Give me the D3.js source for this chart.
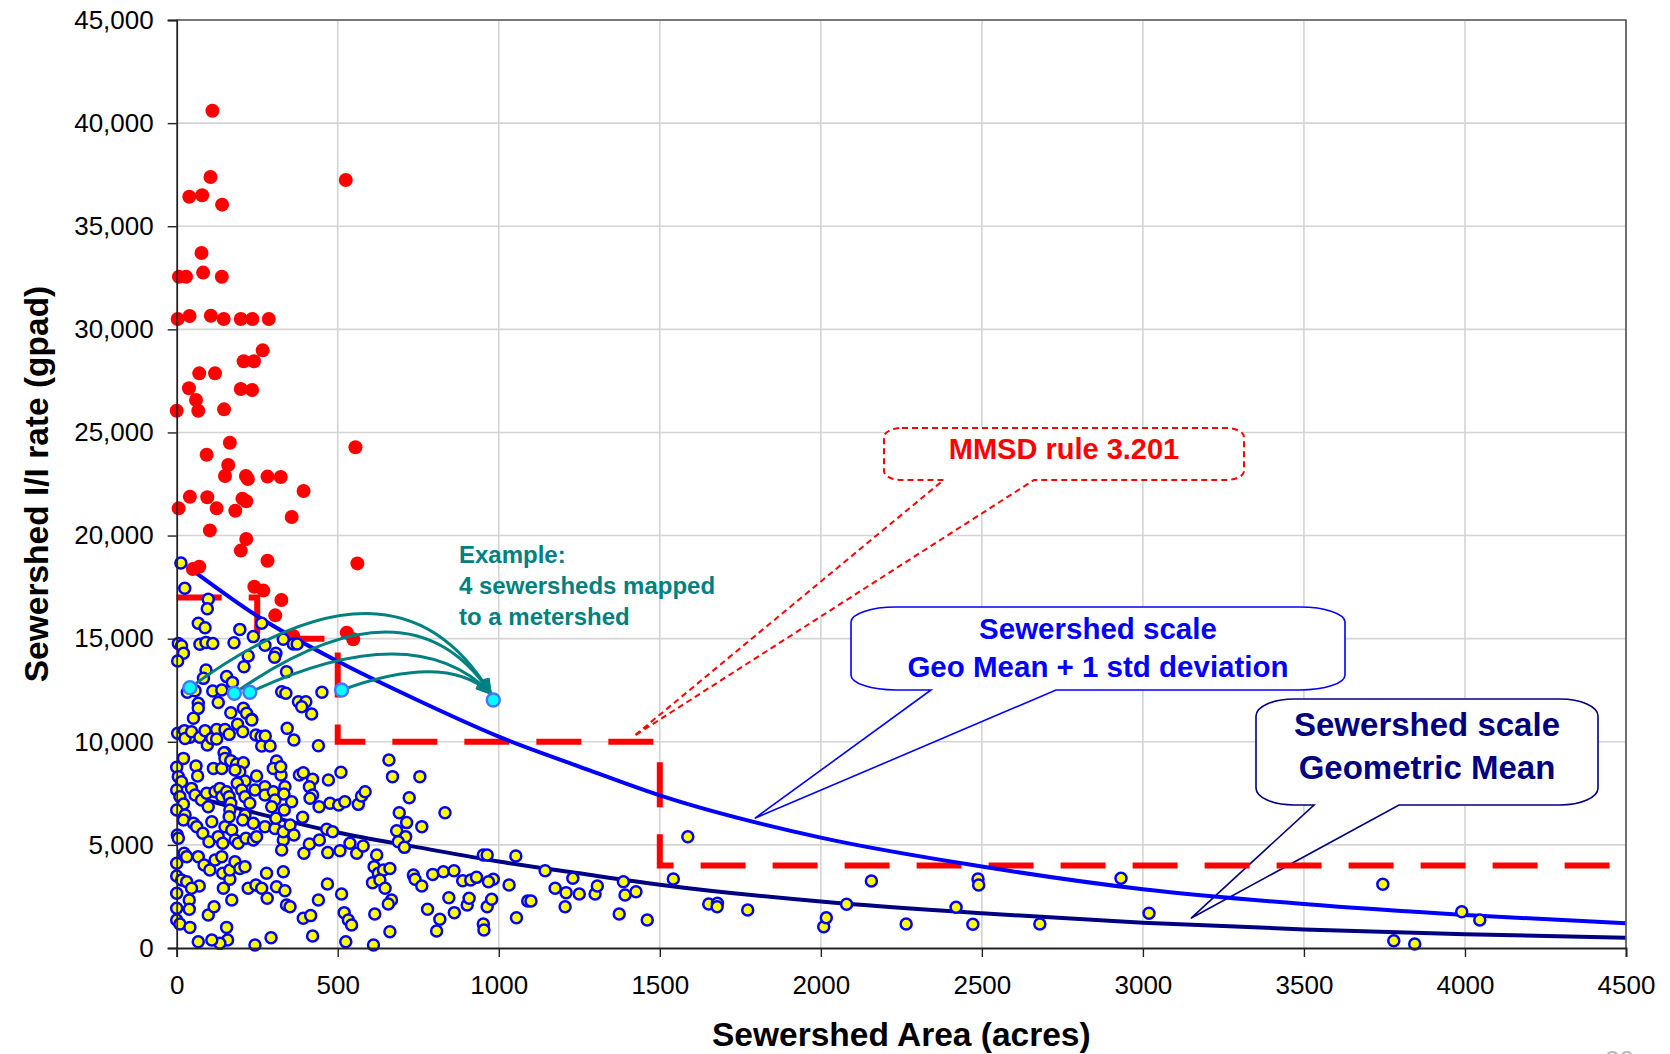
<!DOCTYPE html>
<html>
<head>
<meta charset="utf-8">
<script src="https://cdn.jsdelivr.net/npm/d3@7/dist/d3.min.js"></script>
<title>Sewershed I/I rate vs area</title>
<style>
  body { margin: 0; background: #fff; }
  text { font-family: "Liberation Sans", Arial, sans-serif; }
</style>
</head>
<body>
<div id="chart"></div>
<script>
// axis ticks
var xTicks = [0, 500, 1000, 1500, 2000, 2500, 3000, 3500, 4000, 4500];
var yTicks = [0, 5000, 10000, 15000, 20000, 25000, 30000, 35000, 40000, 45000];

// sewersheds above the rule (acres, gpad)
var redPts = [
  [111,40600],[525,37240],[105,37390],[39,36430],[79,36500],[141,36045],[77,33700],
  [7,32550],[29,32550],[82,32750],[140,32550],[3,30500],[40,30650],[106,30660],
  [146,30500],[199,30500],[235,30500],[286,30500],[267,28980],[208,28450],[240,28450],
  [70,27866],[119,27866],[38,27140],[199,27107],[234,27060],[60,26570],[67,26055],
  [0,26055],[147,26120],[555,24280],[165,24500],[93,23920],[160,23420],[150,22890],
  [215,22890],[221,22740],[282,22860],[323,22840],[394,22160],[6,21320],[41,21885],
  [95,21855],[124,21320],[182,21205],[204,21790],[216,21660],[357,20900],[103,20250],
  [216,19830],[199,19270],[282,18780],[561,18650],[50,18380],[70,18490],[241,17520],
  [269,17330],[325,16875],[306,16130],[528,15290],[548,14970],[362,15130]
];

// sewersheds below the rule (acres, gpad)
var yellowPts = [
  [13,18670],[25,17440],[98,16910],[95,16455],[67,15745],[88,15530],[196,15450],[264,15745],
  [238,15100],[5,14770],[15,14660],[21,14290],[3,13915],[72,14725],[91,14820],[112,14770],
  [178,14800],[274,14680],[308,14290],[304,14095],[331,14970],[362,14740],[374,14740],
  [222,14160],[209,13640],[91,13480],[83,13075],[155,13160],[173,12880],[341,13400],
  [33,12400],[57,12480],[112,12460],[140,12510],[326,12430],[339,12350],[451,12400],
  [378,11945],[401,11945],[388,11700],[419,11350],[67,11865],[67,11620],[129,11900],
  [168,11410],[207,11620],[217,11380],[52,11137],[233,11090],
  [3,10410],[24,10540],[41,10215],[26,10165],[46,10490],[72,10215],[88,10540],[95,9845],
  [109,10165],[124,10600],[124,10135],[150,10600],[150,9470],[163,10360],[189,10845],
  [205,10490],[233,11055],[246,10330],[262,10250],[264,9795],[290,9795],[275,10280],
  [343,10650],[364,10085],[440,9810],
  [21,9195],[0,8760],[5,8310],[15,8065],[60,8825],[65,8340],[114,8710],[140,8710],
  [147,9470],[150,9195],[168,9085],[186,8920],[207,8985],[196,8550],[181,8630],[212,8100],
  [248,8340],[310,9070],[300,8710],[324,8390],[323,8790],[336,7820],[381,8390],[393,8500],
  [422,8180],[412,7820],[471,8145],[510,8520],[659,9115],[670,8310],[755,8310],
  [0,7660],[10,7340],[21,6985],[0,6690],[26,6450],[46,7740],[57,7420],[77,7175],[93,7500],
  [98,6850],[119,7580],[134,7740],[140,7340],[155,7580],[163,7340],[168,7015],[165,6690],
  [188,7985],[202,7660],[212,7340],[227,7015],[212,6450],[243,7660],[274,7820],[274,7420],
  [300,7580],[305,7175],[295,6850],[333,7470],[334,6690],[357,7095],[391,6335],[422,7420],
  [414,7260],[442,6850],[476,7015],[503,6935],[522,7095],[564,6965],[574,7370],[585,7580],
  [722,7290],[691,6560],[833,6560],
  [21,6205],[2,5480],[5,5320],[23,4590],[52,6045],[62,5885],[81,5560],[100,5155],[109,6125],
  [129,5400],[143,5075],[150,5885],[171,5720],[163,6370],[181,5237],[191,5075],[205,6205],
  [215,5320],[238,6045],[238,5237],[248,5400],[274,5885],[305,5800],[308,6290],[331,5237],
  [331,5640],[326,4750],[352,5965],[364,5480],[395,4590],[412,5040],[443,5237],[466,5755],
  [484,5640],[469,4625],[507,4720],[538,5075],[559,4590],[579,4945],[683,5690],[714,6080],
  [711,5400],[688,5155],[707,4880],[761,5885],[621,4510],
  [0,4105],[0,3490],[15,3300],[31,4430],[31,3215],[67,4430],[85,4025],[103,3780],[119,4265],
  [140,4430],[143,3620],[165,3330],[165,3780],[181,4185],[196,3860],[212,3945],[145,2895],
  [70,3005],[46,2895],[222,2895],[246,3055],[264,2895],[279,3620],[281,2410],[310,2975],
  [331,3700],[336,2780],[468,3105],[512,2620],[440,2330],[613,3945],[626,3620],[642,3780],
  [662,3860],[608,3170],[631,3300],[647,2895],[667,2330],[657,2135],[735,3540],[740,3330],
  [761,3005],[795,3570],[828,3700],[861,3750],[888,3265],[913,3300],[931,3425],[952,4510],
  [964,4510],[983,3330],[968,3215],[1053,4460],[1032,3055],[1144,3750],[1175,2895],
  [1209,2685],[1230,3380],[1250,2620],[1299,2620],[1306,3005],[1387,3215],[1392,2570],
  [1426,2730],[1461,1360],
  [0,2650],[0,1925],[0,1360],[10,1165],[39,2330],[39,1875],[41,1000],[67,307],[98,1600],
  [116,2005],[155,1000],[158,390],[134,225],[109,390],[171,2330],[243,145],[293,500],
  [341,2085],[352,2005],[393,1440],[416,1570],[422,580],[520,1715],[533,1360],[543,1115],
  [525,307],[611,145],[615,1650],[662,790],[779,1875],[817,1390],[807,825],[845,2440],
  [862,1715],[902,2085],[908,2410],[952,1165],[954,875],[964,2005],[978,2360],[1055,1470],
  [1090,2280],[1100,2280],[1206,2005],[1374,1650],
  [1542,3346],[1587,5399],[1652,2134],[1679,2166],[1678,2004],[1773,1843],[2009,1034],
  [2017,1471],[2080,2117],[2157,3249],[2265,1164],[2420,1972],[2472,1148],[2488,3346],
  [2490,3055],[2680,1164],[2932,3378],[3019,1681],[3745,3087],[3779,356],[3844,194],
  [3990,1762],[4046,1358]
];

// example: four sewersheds and the metershed they map to
var exampleSewersheds = [[41,12624],[179,12350],[227,12400],[512,12510]];
var exampleMetershed = [983,12026];

// trend curves
var curveAcres     = [62, 250, 500, 750, 1000, 1250, 1500, 2000, 2500, 3000, 3500, 4000, 4500];
var geoMeanPlusStd = [18170, 16100, 13900, 12000, 10250, 8800, 7400, 5350, 3950, 2850, 2130, 1600, 1200];
var geoMean        = [7300, 6530, 5600, 4880, 4190, 3620, 3070, 2250, 1680, 1230, 900, 670, 500];

// MMSD rule 3.201 step limit
var ruleAcres = [0, 250, 250, 500, 500, 1500, 1500, 4500];
var ruleGpad  = [17000, 17000, 15000, 15000, 10000, 10000, 4000, 4000];

(function(){
  var W = 1670, H = 1054;
  var left = 176.7, right = 1626, top = 20, bottom = 948;

  var svg = d3.select("#chart").append("svg")
      .attr("width", W).attr("height", H)
      .style("display", "block");
  svg.append("rect").attr("width", W).attr("height", H).attr("fill", "#fff");

  var x = d3.scaleLinear().domain([0, 4500]).range([left, right]);
  var y = d3.scaleLinear().domain([0, 45000]).range([bottom, top]);

  // gridlines
  svg.append("g").selectAll("line").data(xTicks.slice(1)).enter().append("line")
     .attr("x1", function(d){ return x(d); }).attr("x2", function(d){ return x(d); })
     .attr("y1", top).attr("y2", bottom)
     .attr("stroke", "#d4d4d4").attr("stroke-width", 1.6);
  svg.append("g").selectAll("line").data(yTicks.slice(1)).enter().append("line")
     .attr("x1", left).attr("x2", right)
     .attr("y1", function(d){ return y(d); }).attr("y2", function(d){ return y(d); })
     .attr("stroke", "#d4d4d4").attr("stroke-width", 1.6);

  // callout shape: rounded box with a wedge down to a tip
  function callout(x0, y0, x1, y1, rx, ry, gL, gR, tx, ty) {
    return "M" + (x0 + rx) + "," + y0 +
      "H" + (x1 - rx) +
      "A" + rx + "," + ry + " 0 0 1 " + x1 + "," + (y0 + ry) +
      "V" + (y1 - ry) +
      "A" + rx + "," + ry + " 0 0 1 " + (x1 - rx) + "," + y1 +
      "H" + gR + "L" + tx + "," + ty + "L" + gL + "," + y1 +
      "H" + (x0 + rx) +
      "A" + rx + "," + ry + " 0 0 1 " + x0 + "," + (y1 - ry) +
      "V" + (y0 + ry) +
      "A" + rx + "," + ry + " 0 0 1 " + (x0 + rx) + "," + y0 + "Z";
  }

  var notes = svg.append("g");
  notes.append("path")
     .attr("d", callout(884, 428, 1244, 480, 18, 9, 943.6, 1034, x(1420), y(10280)))
     .attr("fill", "#fff").attr("stroke", "#ff0000").attr("stroke-width", 2)
     .attr("stroke-dasharray", "6,4");
  notes.append("path")
     .attr("d", callout(851, 607, 1345, 690, 45, 15, 931, 1056, x(1795), y(6290)))
     .attr("fill", "#fff").attr("stroke", "#0000ff").attr("stroke-width", 1.6);
  notes.append("path")
     .attr("d", callout(1256, 699, 1598, 805, 38, 17, 1314, 1399, x(3149), y(1440)))
     .attr("fill", "#fff").attr("stroke", "#000080").attr("stroke-width", 1.6);

  // rule step line
  var rule = ruleAcres.map(function(d, i){ return [d, ruleGpad[i]]; });
  svg.append("path")
     .attr("d", d3.line().x(function(d){ return x(d[0]); }).y(function(d){ return y(d[1]); })(rule))
     .attr("fill", "none").attr("stroke", "#ff0000").attr("stroke-width", 6)
     .attr("stroke-dasharray", "45,27");

  // trend curves
  var curve = d3.line().curve(d3.curveMonotoneX)
      .x(function(d){ return x(d[0]); }).y(function(d){ return y(d[1]); });
  svg.append("path")
     .attr("d", curve(curveAcres.map(function(d, i){ return [d, geoMean[i]]; })))
     .attr("fill", "none").attr("stroke", "#000080").attr("stroke-width", 4);
  svg.append("path")
     .attr("d", curve(curveAcres.map(function(d, i){ return [d, geoMeanPlusStd[i]]; })))
     .attr("fill", "none").attr("stroke", "#0000ff").attr("stroke-width", 4);

  // points
  svg.append("g").selectAll("circle").data(redPts).enter().append("circle")
     .attr("cx", function(d){ return x(d[0]); }).attr("cy", function(d){ return y(d[1]); })
     .attr("r", 7).attr("fill", "#ff0000");
  svg.append("g").selectAll("circle").data(yellowPts).enter().append("circle")
     .attr("cx", function(d){ return x(d[0]); }).attr("cy", function(d){ return y(d[1]); })
     .attr("r", 5.5).attr("fill", "#ffff00").attr("stroke", "#0000ff").attr("stroke-width", 2.5);

  // example arrows
  svg.append("defs").append("marker")
     .attr("id", "arr").attr("viewBox", "0 0 16 14").attr("refX", 15).attr("refY", 7)
     .attr("markerWidth", 16).attr("markerHeight", 14).attr("markerUnits", "userSpaceOnUse")
     .attr("orient", "auto")
     .append("path").attr("d", "M1,1 L15,7 L1,13")
     .attr("fill", "none").attr("stroke", "#008080").attr("stroke-width", 2.8);

  var lifts = [106, 85, 55, 30];
  var ex = x(exampleMetershed[0]), ey = y(exampleMetershed[1]);
  svg.append("g").selectAll("path").data(exampleSewersheds).enter().append("path")
     .attr("d", function(d, i){
        var sx = x(d[0]), sy = y(d[1]);
        var dx = ex - sx;
        var c = (sy + ey) / 2 - lifts[i];
        var p = d3.path();
        p.moveTo(sx, sy);
        p.bezierCurveTo(sx + 0.45 * dx, c, ex - 0.22 * dx, c, ex - 3, ey - 7);
        return p.toString();
     })
     .attr("fill", "none").attr("stroke", "#008080").attr("stroke-width", 3)
     .attr("marker-end", "url(#arr)");

  svg.append("g").selectAll("circle").data(exampleSewersheds.concat([exampleMetershed])).enter()
     .append("circle")
     .attr("cx", function(d){ return x(d[0]); }).attr("cy", function(d){ return y(d[1]); })
     .attr("r", 6.5).attr("fill", "#00ffff").attr("stroke", "#4477ff").attr("stroke-width", 2.4);

  // example label
  var exLabel = svg.append("text").attr("x", 459).attr("y", 563)
     .attr("fill", "#008080").attr("font-size", 24).attr("font-weight", "bold");
  ["Example:", "4 sewersheds mapped", "to a metershed"].forEach(function(t, i){
    exLabel.append("tspan").attr("x", 459).attr("dy", i ? 31 : 0).text(t);
  });

  // callout texts
  function noteText(cx, ys, lines, color, size) {
    lines.forEach(function(t, i){
      svg.append("text").attr("x", cx).attr("y", ys[i]).attr("text-anchor", "middle")
         .attr("fill", color).attr("font-size", size).attr("font-weight", "bold").text(t);
    });
  }
  noteText(1064, [459], ["MMSD rule 3.201"], "#ff0000", 29);
  noteText(1098, [639, 677], ["Sewershed scale", "Geo Mean + 1 std deviation"], "#0000ff", 29.5);
  noteText(1427, [736, 779], ["Sewershed scale", "Geometric Mean"], "#000080", 33);

  // plot border top/right
  svg.append("path").attr("d", "M" + left + "," + top + "H" + right + "V" + bottom)
     .attr("fill", "none").attr("stroke", "#555").attr("stroke-width", 1.6);

  // axes
  var yAxis = svg.append("g").attr("transform", "translate(" + left + ",0)")
     .call(d3.axisLeft(y).tickValues(yTicks).tickFormat(d3.format(",")).tickSize(9).tickPadding(14));
  var xAxis = svg.append("g").attr("transform", "translate(0," + bottom + ")")
     .call(d3.axisBottom(x).tickValues(xTicks).tickFormat(d3.format("d")).tickSize(9).tickPadding(19));
  [xAxis, yAxis].forEach(function(a){
    a.select(".domain").attr("stroke", "#222").attr("stroke-width", 1.8);
    a.selectAll(".tick line").attr("stroke", "#222").attr("stroke-width", 1.4);
    a.selectAll(".tick text").attr("fill", "#000").attr("font-size", 26)
     .attr("font-family", "'Liberation Sans', Arial, sans-serif");
  });

  // axis titles
  svg.append("text").attr("x", (left + right) / 2).attr("y", 1046).attr("text-anchor", "middle")
     .attr("font-size", 33.5).attr("font-weight", "bold").attr("fill", "#000")
     .text("Sewershed Area (acres)");
  svg.append("text").attr("transform", "translate(48," + ((top + bottom) / 2) + ") rotate(-90)")
     .attr("text-anchor", "middle")
     .attr("font-size", 33.5).attr("font-weight", "bold").attr("fill", "#000")
     .text("Sewershed I/I rate (gpad)");

  // faint slide number at the cut-off bottom edge
  svg.append("text").attr("x", 1605).attr("y", 1069).attr("font-size", 26)
     .attr("fill", "#bbbbbb").text("20");
})();
</script>
</body>
</html>
